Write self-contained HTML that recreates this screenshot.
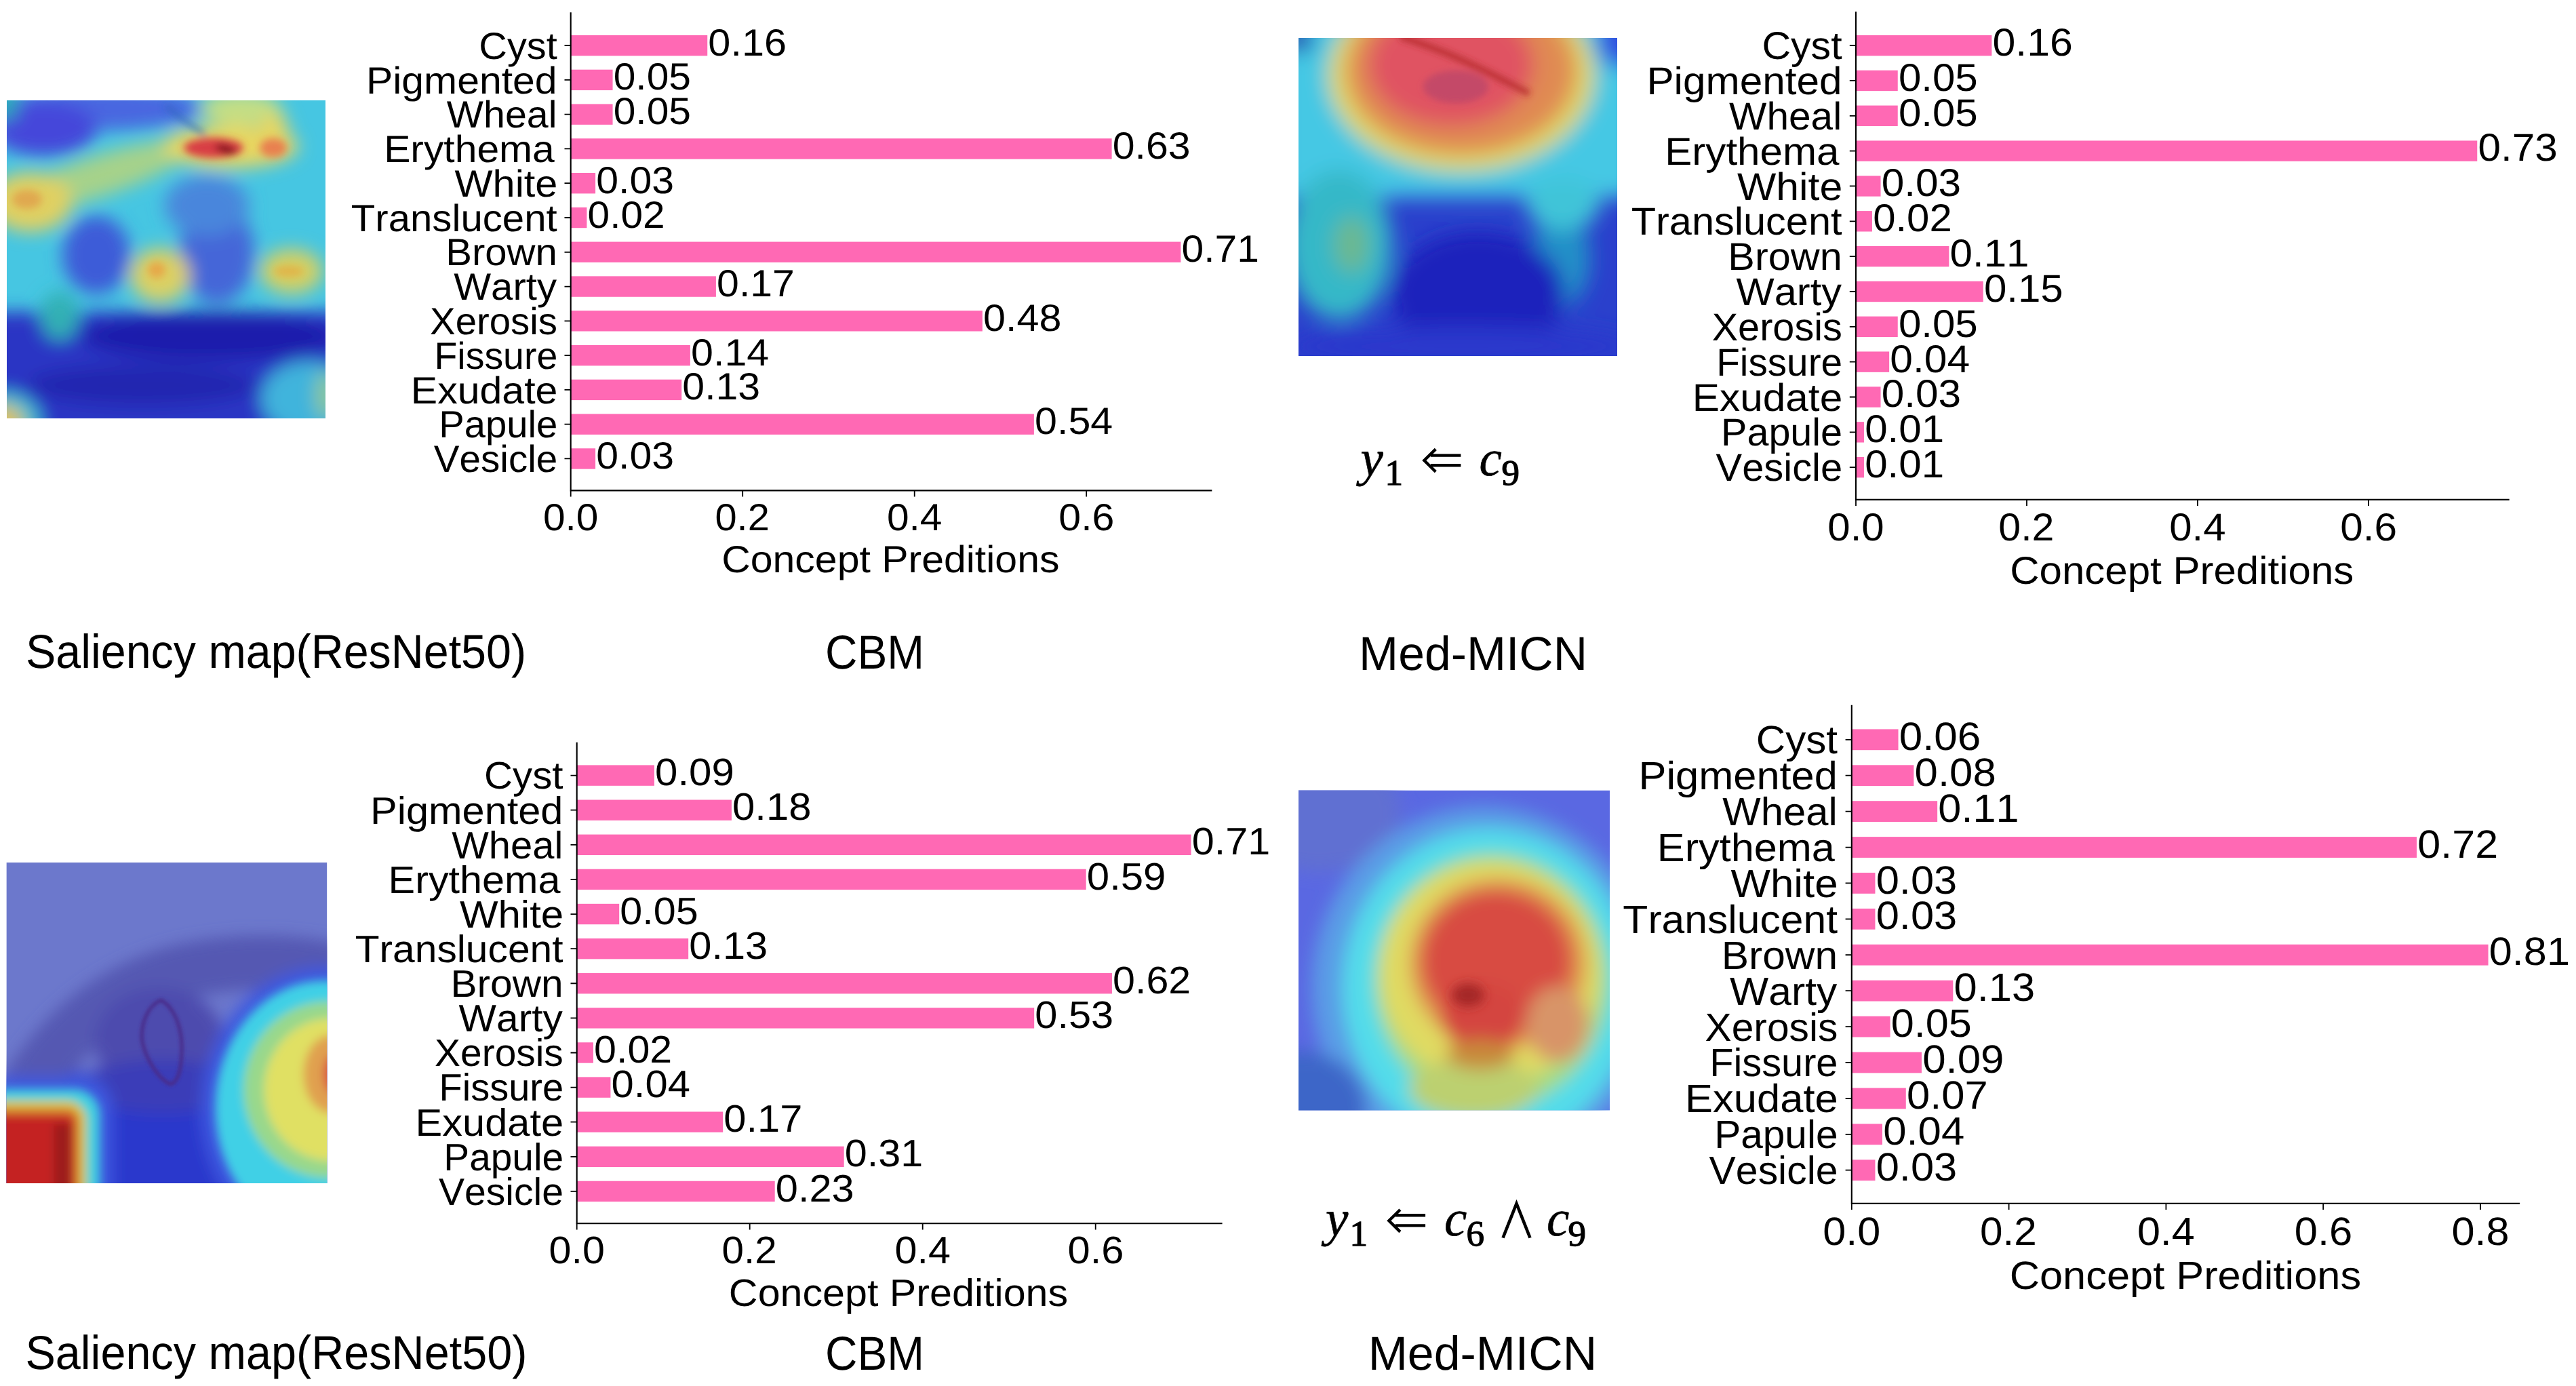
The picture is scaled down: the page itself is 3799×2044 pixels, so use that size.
<!DOCTYPE html>
<html><head><meta charset="utf-8"><style>
html,body{margin:0;padding:0;background:#fff;}
body{width:3799px;height:2044px;overflow:hidden;}
svg{display:block;font-family:"Liberation Sans",sans-serif;font-kerning:none;text-rendering:geometricPrecision;}
</style></head><body>
<svg width="3799" height="2044" viewBox="0 0 3799 2044">
<rect width="3799" height="2044" fill="#fff"/>
<defs><clipPath id="c1"><rect width="470" height="469"/></clipPath><filter id="b1" x="-20%" y="-20%" width="140%" height="140%"><feGaussianBlur stdDeviation="13"/></filter><filter id="b1s" x="-50%" y="-50%" width="200%" height="200%"><feGaussianBlur stdDeviation="6"/></filter></defs>
<g transform="translate(10,148)" clip-path="url(#c1)">
<rect width="470" height="469" fill="#46c6e2"/>
<g filter="url(#b1)">
<ellipse cx="140" cy="12" rx="150" ry="32" fill="#4a66e0"/>
<ellipse cx="55" cy="42" rx="78" ry="40" fill="#4446da"/><ellipse cx="0" cy="6" rx="16" ry="24" fill="#26a8b4"/>
<ellipse cx="132" cy="228" rx="50" ry="58" fill="#3e5cd8"/>
<ellipse cx="310" cy="225" rx="55" ry="75" fill="#4466d8"/><ellipse cx="295" cy="155" rx="62" ry="45" fill="#4a86dc"/>
<rect x="-30" y="312" width="560" height="200" fill="#2a36c4"/>
<ellipse cx="300" cy="348" rx="190" ry="36" fill="#1a1eac"/>
<ellipse cx="200" cy="420" rx="170" ry="30" fill="#2428b0"/>
<ellipse cx="445" cy="440" rx="70" ry="55" fill="#40b4dc"/>
<ellipse cx="470" cy="435" rx="14" ry="35" fill="#90c890"/>
<ellipse cx="78" cy="318" rx="28" ry="36" fill="#30b0b4"/>
<ellipse cx="-5" cy="475" rx="55" ry="45" fill="#40c0d0"/>
<ellipse cx="-5" cy="475" rx="30" ry="25" fill="#e0c050"/>
<ellipse cx="135" cy="112" rx="145" ry="30" fill="#a6d28a" transform="rotate(-18 135 112)"/>
<ellipse cx="35" cy="150" rx="62" ry="44" fill="#e0d062"/>
<ellipse cx="330" cy="68" rx="100" ry="32" fill="#e8d660"/>
<ellipse cx="345" cy="12" rx="60" ry="25" fill="#c4de84"/>
<ellipse cx="395" cy="40" rx="20" ry="22" fill="#e8d660"/>
<ellipse cx="226" cy="258" rx="44" ry="40" fill="#dcd064"/>
<ellipse cx="420" cy="252" rx="46" ry="33" fill="#d6d062"/>
</g>
<g filter="url(#b1s)">
<ellipse cx="30" cy="146" rx="22" ry="14" fill="#e0a850"/>
<ellipse cx="221" cy="250" rx="13" ry="12" fill="#e6a848"/>
<ellipse cx="416" cy="252" rx="22" ry="8" fill="#e0b448"/>
<ellipse cx="393" cy="70" rx="20" ry="14" fill="#e88050"/>
<ellipse cx="305" cy="70" rx="44" ry="15" fill="#d83c44"/>
<ellipse cx="323" cy="72" rx="16" ry="6" fill="#7a0c14" transform="rotate(15 323 72)"/>
<path d="M235 8 Q260 30 292 50" stroke="#2a64b8" stroke-width="5" fill="none"/>
</g>
</g>

<defs><clipPath id="c2"><rect width="470" height="469"/></clipPath><filter id="b2" x="-20%" y="-20%" width="140%" height="140%"><feGaussianBlur stdDeviation="15"/></filter><filter id="b2s" x="-50%" y="-50%" width="200%" height="200%"><feGaussianBlur stdDeviation="5"/></filter></defs>
<g transform="translate(1915,56)" clip-path="url(#c2)">
<rect width="470" height="469" fill="#2a40cc"/>
<g filter="url(#b2)">
<rect x="-30" y="-30" width="530" height="265" fill="#44c8e4"/>
<ellipse cx="60" cy="305" rx="78" ry="110" fill="#34b8c8"/>
<ellipse cx="78" cy="305" rx="26" ry="42" fill="#6cb890"/>
<ellipse cx="388" cy="325" rx="42" ry="70" fill="#2090c8"/>
<ellipse cx="390" cy="245" rx="55" ry="38" fill="#40c4d8"/>
<ellipse cx="265" cy="378" rx="128" ry="92" fill="#1c22bc"/>
<ellipse cx="240" cy="455" rx="260" ry="30" fill="#2a38cc"/>
<ellipse cx="0" cy="0" rx="22" ry="22" fill="#2040b0"/>
<ellipse cx="475" cy="0" rx="35" ry="45" fill="#3050e0"/>
<ellipse cx="240" cy="55" rx="196" ry="142" fill="#e0d860"/>
<ellipse cx="240" cy="48" rx="170" ry="124" fill="#e08a52"/>
<ellipse cx="225" cy="40" rx="122" ry="90" fill="#e05262"/>
</g>
<g filter="url(#b2s)">
<ellipse cx="232" cy="72" rx="48" ry="24" fill="#c44868"/>
<path d="M150 -2 Q200 14 240 32 T340 82" stroke="#b42828" stroke-width="9" fill="none" opacity="0.85"/>
</g>
</g>

<defs><clipPath id="c3"><rect width="473" height="473"/></clipPath><filter id="b3" x="-20%" y="-20%" width="140%" height="140%"><feGaussianBlur stdDeviation="11"/></filter><filter id="b3m" x="-20%" y="-20%" width="140%" height="140%"><feGaussianBlur stdDeviation="7"/></filter><filter id="b3s" x="-50%" y="-50%" width="200%" height="200%"><feGaussianBlur stdDeviation="2.5"/></filter></defs>
<g transform="translate(9.4,1272)" clip-path="url(#c3)">
<rect width="473" height="473" fill="#6c78cc"/>
<g filter="url(#b3)">
<path d="M10 370 Q100 200 260 160 Q380 135 490 160" stroke="#5458b2" stroke-width="80" fill="none"/>
<ellipse cx="225" cy="262" rx="95" ry="78" fill="#4e4cae"/>
<rect x="90" y="310" width="260" height="190" fill="#2a38cc"/>
<ellipse cx="230" cy="330" rx="120" ry="40" fill="#3a3cb8"/>
<ellipse cx="470" cy="362" rx="182" ry="208" fill="#3c58e0"/>
<rect x="-40" y="316" width="196" height="200" rx="45" fill="#3c58e0"/>
</g>
<g filter="url(#b3m)">
<ellipse cx="470" cy="362" rx="162" ry="188" fill="#40d0e6"/>
<ellipse cx="474" cy="335" rx="124" ry="130" fill="#98d88c"/>
<ellipse cx="478" cy="335" rx="98" ry="105" fill="#e0e064"/>
<ellipse cx="480" cy="312" rx="42" ry="58" fill="#e0a050"/>
<ellipse cx="484" cy="312" rx="16" ry="30" fill="#d84840"/>
<rect x="-40" y="334" width="178" height="180" rx="38" fill="#40d0e0"/>
<rect x="-40" y="351" width="158" height="160" rx="28" fill="#d8c840"/>
<rect x="-40" y="362" width="148" height="150" rx="18" fill="#d87830"/>
<rect x="-40" y="372" width="140" height="140" rx="10" fill="#c42020"/>
<rect x="70" y="385" width="26" height="100" fill="#9c1a1a"/>
</g>
<g filter="url(#b3s)">
<path d="M228 203 C250 215 262 250 258 290 C256 315 250 325 242 327 C225 320 205 290 200 262 C198 235 210 210 228 203 Z" fill="none" stroke="#4a2a88" stroke-width="5"/>
</g>
</g>

<defs><clipPath id="c4"><rect width="459" height="472"/></clipPath><filter id="b4" x="-20%" y="-20%" width="140%" height="140%"><feGaussianBlur stdDeviation="13"/></filter><filter id="b4s" x="-50%" y="-50%" width="200%" height="200%"><feGaussianBlur stdDeviation="8"/></filter></defs>
<g transform="translate(1915,1165.5)" clip-path="url(#c4)">
<rect width="459" height="472" fill="#5a68e2"/>
<g filter="url(#b4)">
<ellipse cx="30" cy="30" rx="120" ry="90" fill="#6070d2"/>
<ellipse cx="272" cy="292" rx="252" ry="268" fill="#5a9ce6"/>
<ellipse cx="280" cy="292" rx="215" ry="236" fill="#52dcea"/>
<ellipse cx="5" cy="470" rx="95" ry="85" fill="#3c66c8"/>
<ellipse cx="285" cy="282" rx="172" ry="188" fill="#a6da82"/>
<ellipse cx="282" cy="270" rx="162" ry="165" fill="#e0da62"/>
<ellipse cx="294" cy="256" rx="130" ry="126" fill="#e09250"/>
<ellipse cx="292" cy="252" rx="110" ry="104" fill="#d84c42"/>
<ellipse cx="382" cy="345" rx="46" ry="56" fill="#d89468"/>
<ellipse cx="258" cy="440" rx="95" ry="45" fill="#bcd070"/><ellipse cx="272" cy="335" rx="62" ry="50" fill="#d44440"/><ellipse cx="268" cy="390" rx="50" ry="22" fill="#c88a3a"/>
</g>
<g filter="url(#b4s)">
<ellipse cx="250" cy="302" rx="24" ry="17" fill="#a42626"/>
</g>
</g>

<rect x="841.7" y="51.9" width="201.53" height="30.4" fill="#ff69b4"/>
<rect x="841.7" y="102.68" width="61.85" height="30.4" fill="#ff69b4"/>
<rect x="841.7" y="153.46" width="61.85" height="30.4" fill="#ff69b4"/>
<rect x="841.7" y="204.24" width="797.89" height="30.4" fill="#ff69b4"/>
<rect x="841.7" y="255.02" width="36.38" height="30.4" fill="#ff69b4"/>
<rect x="841.7" y="305.8" width="23.7" height="30.4" fill="#ff69b4"/>
<rect x="841.7" y="356.58" width="899.67" height="30.4" fill="#ff69b4"/>
<rect x="841.7" y="407.36" width="214.21" height="30.4" fill="#ff69b4"/>
<rect x="841.7" y="458.14" width="607.13" height="30.4" fill="#ff69b4"/>
<rect x="841.7" y="508.92" width="176.18" height="30.4" fill="#ff69b4"/>
<rect x="841.7" y="559.7" width="163.51" height="30.4" fill="#ff69b4"/>
<rect x="841.7" y="610.48" width="683.18" height="30.4" fill="#ff69b4"/>
<rect x="841.7" y="661.26" width="36.38" height="30.4" fill="#ff69b4"/>
<path d="M841.7 19.4V723.4H1786.3" fill="none" stroke="#000" stroke-width="2.1" stroke-linecap="square"/>
<path d="M832.5 67.1H841.7M832.5 117.88H841.7M832.5 168.66H841.7M832.5 219.44H841.7M832.5 270.22H841.7M832.5 321H841.7M832.5 371.78H841.7M832.5 422.56H841.7M832.5 473.34H841.7M832.5 524.12H841.7M832.5 574.9H841.7M832.5 625.68H841.7M832.5 676.46H841.7M841.7 723.4V732.6M1095.2 723.4V732.6M1348.7 723.4V732.6M1602.2 723.4V732.6" stroke="#000" stroke-width="1.8"/>
<text x="706.27" y="86.74" font-size="55.97" textLength="115.45" lengthAdjust="spacingAndGlyphs">Cyst</text>
<text x="539.96" y="137.52" font-size="55.97" textLength="281.6" lengthAdjust="spacingAndGlyphs">Pigmented</text>
<text x="658.88" y="188.3" font-size="55.97" textLength="162.57" lengthAdjust="spacingAndGlyphs">Wheal</text>
<text x="566.17" y="239.08" font-size="55.97" textLength="251.6" lengthAdjust="spacingAndGlyphs">Erythema</text>
<text x="670.53" y="289.86" font-size="55.97" textLength="151.87" lengthAdjust="spacingAndGlyphs">White</text>
<text x="517.76" y="340.64" font-size="55.97" textLength="303.97" lengthAdjust="spacingAndGlyphs">Translucent</text>
<text x="657.26" y="391.42" font-size="55.97" textLength="164.59" lengthAdjust="spacingAndGlyphs">Brown</text>
<text x="669.22" y="442.2" font-size="55.97" textLength="151.89" lengthAdjust="spacingAndGlyphs">Warty</text>
<text x="634.05" y="492.98" font-size="55.97" textLength="187.97" lengthAdjust="spacingAndGlyphs">Xerosis</text>
<text x="640.49" y="543.76" font-size="55.97" textLength="181.73" lengthAdjust="spacingAndGlyphs">Fissure</text>
<text x="605.77" y="594.54" font-size="55.97" textLength="216.6" lengthAdjust="spacingAndGlyphs">Exudate</text>
<text x="647.18" y="645.32" font-size="55.97" textLength="175.08" lengthAdjust="spacingAndGlyphs">Papule</text>
<text x="639.86" y="696.1" font-size="55.97" textLength="182.41" lengthAdjust="spacingAndGlyphs">Vesicle</text>
<text x="1044.39" y="81.63" font-size="55.97" textLength="115.69" lengthAdjust="spacingAndGlyphs">0.16</text>
<text x="904.74" y="132.41" font-size="55.97" textLength="114.22" lengthAdjust="spacingAndGlyphs">0.05</text>
<text x="904.74" y="183.19" font-size="55.97" textLength="114.22" lengthAdjust="spacingAndGlyphs">0.05</text>
<text x="1640.77" y="233.97" font-size="55.97" textLength="114.75" lengthAdjust="spacingAndGlyphs">0.63</text>
<text x="879.25" y="284.75" font-size="55.97" textLength="114.75" lengthAdjust="spacingAndGlyphs">0.03</text>
<text x="866.59" y="335.53" font-size="55.97" textLength="114.03" lengthAdjust="spacingAndGlyphs">0.02</text>
<text x="1742.56" y="386.31" font-size="55.97" textLength="114.37" lengthAdjust="spacingAndGlyphs">0.71</text>
<text x="1057.08" y="437.09" font-size="55.97" textLength="114.84" lengthAdjust="spacingAndGlyphs">0.17</text>
<text x="1450" y="487.87" font-size="55.97" textLength="115.36" lengthAdjust="spacingAndGlyphs">0.48</text>
<text x="1019.05" y="538.65" font-size="55.97" textLength="115.16" lengthAdjust="spacingAndGlyphs">0.14</text>
<text x="1006.38" y="589.43" font-size="55.97" textLength="114.75" lengthAdjust="spacingAndGlyphs">0.13</text>
<text x="1526.05" y="640.21" font-size="55.97" textLength="115.16" lengthAdjust="spacingAndGlyphs">0.54</text>
<text x="879.25" y="690.99" font-size="55.97" textLength="114.75" lengthAdjust="spacingAndGlyphs">0.03</text>
<text x="800.9" y="781.6" font-size="55.97" textLength="81.57" lengthAdjust="spacingAndGlyphs">0.0</text>
<text x="1054.44" y="781.6" font-size="55.97" textLength="80.37" lengthAdjust="spacingAndGlyphs">0.2</text>
<text x="1307.9" y="781.6" font-size="55.97" textLength="81.53" lengthAdjust="spacingAndGlyphs">0.4</text>
<text x="1561.39" y="781.6" font-size="55.97" textLength="82.06" lengthAdjust="spacingAndGlyphs">0.6</text>
<text x="1064.21" y="844.4" font-size="55.97" textLength="498.23" lengthAdjust="spacingAndGlyphs">Concept Preditions</text>
<rect x="2737" y="51.9" width="200.34" height="30.4" fill="#ff69b4"/>
<rect x="2737" y="103.74" width="61.74" height="30.4" fill="#ff69b4"/>
<rect x="2737" y="155.58" width="61.74" height="30.4" fill="#ff69b4"/>
<rect x="2737" y="207.42" width="916.27" height="30.4" fill="#ff69b4"/>
<rect x="2737" y="259.26" width="36.54" height="30.4" fill="#ff69b4"/>
<rect x="2737" y="311.1" width="23.94" height="30.4" fill="#ff69b4"/>
<rect x="2737" y="362.94" width="137.34" height="30.4" fill="#ff69b4"/>
<rect x="2737" y="414.78" width="187.74" height="30.4" fill="#ff69b4"/>
<rect x="2737" y="466.62" width="61.74" height="30.4" fill="#ff69b4"/>
<rect x="2737" y="518.46" width="49.14" height="30.4" fill="#ff69b4"/>
<rect x="2737" y="570.3" width="36.54" height="30.4" fill="#ff69b4"/>
<rect x="2737" y="622.14" width="11.97" height="30.4" fill="#ff69b4"/>
<rect x="2737" y="673.98" width="11.97" height="30.4" fill="#ff69b4"/>
<path d="M2737 18.4V736.9H3699.6" fill="none" stroke="#000" stroke-width="2.1" stroke-linecap="square"/>
<path d="M2727.8 67.1H2737M2727.8 118.94H2737M2727.8 170.78H2737M2727.8 222.62H2737M2727.8 274.46H2737M2727.8 326.3H2737M2727.8 378.14H2737M2727.8 429.98H2737M2727.8 481.82H2737M2727.8 533.66H2737M2727.8 585.5H2737M2727.8 637.34H2737M2727.8 689.18H2737M2737 736.9V746.1M2989 736.9V746.1M3241 736.9V746.1M3493 736.9V746.1" stroke="#000" stroke-width="1.8"/>
<text x="2598.49" y="87.18" font-size="57.24" textLength="118.07" lengthAdjust="spacingAndGlyphs">Cyst</text>
<text x="2428.41" y="139.02" font-size="57.24" textLength="288" lengthAdjust="spacingAndGlyphs">Pigmented</text>
<text x="2550.03" y="190.86" font-size="57.24" textLength="166.26" lengthAdjust="spacingAndGlyphs">Wheal</text>
<text x="2455.21" y="242.7" font-size="57.24" textLength="257.32" lengthAdjust="spacingAndGlyphs">Erythema</text>
<text x="2561.94" y="294.54" font-size="57.24" textLength="155.32" lengthAdjust="spacingAndGlyphs">White</text>
<text x="2405.7" y="346.38" font-size="57.24" textLength="310.87" lengthAdjust="spacingAndGlyphs">Translucent</text>
<text x="2548.37" y="398.22" font-size="57.24" textLength="168.33" lengthAdjust="spacingAndGlyphs">Brown</text>
<text x="2560.6" y="450.06" font-size="57.24" textLength="155.34" lengthAdjust="spacingAndGlyphs">Warty</text>
<text x="2524.63" y="501.9" font-size="57.24" textLength="192.25" lengthAdjust="spacingAndGlyphs">Xerosis</text>
<text x="2531.21" y="553.74" font-size="57.24" textLength="185.86" lengthAdjust="spacingAndGlyphs">Fissure</text>
<text x="2495.71" y="605.58" font-size="57.24" textLength="221.53" lengthAdjust="spacingAndGlyphs">Exudate</text>
<text x="2538.06" y="657.42" font-size="57.24" textLength="179.05" lengthAdjust="spacingAndGlyphs">Papule</text>
<text x="2530.57" y="709.26" font-size="57.24" textLength="186.55" lengthAdjust="spacingAndGlyphs">Vesicle</text>
<text x="2938.52" y="81.96" font-size="57.24" textLength="118.32" lengthAdjust="spacingAndGlyphs">0.16</text>
<text x="2799.95" y="133.8" font-size="57.24" textLength="116.82" lengthAdjust="spacingAndGlyphs">0.05</text>
<text x="2799.95" y="185.64" font-size="57.24" textLength="116.82" lengthAdjust="spacingAndGlyphs">0.05</text>
<text x="3654.48" y="237.48" font-size="57.24" textLength="117.36" lengthAdjust="spacingAndGlyphs">0.73</text>
<text x="2774.74" y="289.32" font-size="57.24" textLength="117.36" lengthAdjust="spacingAndGlyphs">0.03</text>
<text x="2762.16" y="341.16" font-size="57.24" textLength="116.62" lengthAdjust="spacingAndGlyphs">0.02</text>
<text x="2875.55" y="393" font-size="57.24" textLength="116.97" lengthAdjust="spacingAndGlyphs">0.11</text>
<text x="2925.95" y="444.84" font-size="57.24" textLength="116.82" lengthAdjust="spacingAndGlyphs">0.15</text>
<text x="2799.95" y="496.68" font-size="57.24" textLength="116.82" lengthAdjust="spacingAndGlyphs">0.05</text>
<text x="2787.34" y="548.52" font-size="57.24" textLength="117.78" lengthAdjust="spacingAndGlyphs">0.04</text>
<text x="2774.74" y="600.36" font-size="57.24" textLength="117.36" lengthAdjust="spacingAndGlyphs">0.03</text>
<text x="2750.18" y="652.2" font-size="57.24" textLength="116.97" lengthAdjust="spacingAndGlyphs">0.01</text>
<text x="2750.18" y="704.04" font-size="57.24" textLength="116.97" lengthAdjust="spacingAndGlyphs">0.01</text>
<text x="2695.28" y="797.3" font-size="57.24" textLength="83.42" lengthAdjust="spacingAndGlyphs">0.0</text>
<text x="2947.31" y="797.3" font-size="57.24" textLength="82.2" lengthAdjust="spacingAndGlyphs">0.2</text>
<text x="3199.28" y="797.3" font-size="57.24" textLength="83.39" lengthAdjust="spacingAndGlyphs">0.4</text>
<text x="3451.26" y="797.3" font-size="57.24" textLength="83.93" lengthAdjust="spacingAndGlyphs">0.6</text>
<text x="2964.15" y="860.6" font-size="57.24" textLength="507.22" lengthAdjust="spacingAndGlyphs">Concept Preditions</text>
<rect x="850.7" y="1128.4" width="114.24" height="30.4" fill="#ff69b4"/>
<rect x="850.7" y="1179.51" width="228.22" height="30.4" fill="#ff69b4"/>
<rect x="850.7" y="1230.62" width="905.89" height="30.4" fill="#ff69b4"/>
<rect x="850.7" y="1281.73" width="750.97" height="30.4" fill="#ff69b4"/>
<rect x="850.7" y="1332.84" width="62.48" height="30.4" fill="#ff69b4"/>
<rect x="850.7" y="1383.95" width="164.47" height="30.4" fill="#ff69b4"/>
<rect x="850.7" y="1435.06" width="789.23" height="30.4" fill="#ff69b4"/>
<rect x="850.7" y="1486.17" width="674.48" height="30.4" fill="#ff69b4"/>
<rect x="850.7" y="1537.28" width="24.22" height="30.4" fill="#ff69b4"/>
<rect x="850.7" y="1588.39" width="49.73" height="30.4" fill="#ff69b4"/>
<rect x="850.7" y="1639.5" width="215.48" height="30.4" fill="#ff69b4"/>
<rect x="850.7" y="1690.61" width="393.98" height="30.4" fill="#ff69b4"/>
<rect x="850.7" y="1741.72" width="291.98" height="30.4" fill="#ff69b4"/>
<path d="M850.7 1095.7V1804.2H1801.5" fill="none" stroke="#000" stroke-width="2.1" stroke-linecap="square"/>
<path d="M841.5 1143.6H850.7M841.5 1194.71H850.7M841.5 1245.82H850.7M841.5 1296.93H850.7M841.5 1348.04H850.7M841.5 1399.15H850.7M841.5 1450.26H850.7M841.5 1501.37H850.7M841.5 1552.48H850.7M841.5 1603.59H850.7M841.5 1654.7H850.7M841.5 1705.81H850.7M841.5 1756.92H850.7M850.7 1804.2V1813.4M1105.7 1804.2V1813.4M1360.7 1804.2V1813.4M1615.7 1804.2V1813.4" stroke="#000" stroke-width="1.8"/>
<text x="713.99" y="1163.42" font-size="56.5" textLength="116.54" lengthAdjust="spacingAndGlyphs">Cyst</text>
<text x="546.11" y="1214.53" font-size="56.5" textLength="284.27" lengthAdjust="spacingAndGlyphs">Pigmented</text>
<text x="666.15" y="1265.64" font-size="56.5" textLength="164.11" lengthAdjust="spacingAndGlyphs">Wheal</text>
<text x="572.56" y="1316.75" font-size="56.5" textLength="253.98" lengthAdjust="spacingAndGlyphs">Erythema</text>
<text x="677.91" y="1367.86" font-size="56.5" textLength="153.3" lengthAdjust="spacingAndGlyphs">White</text>
<text x="523.69" y="1418.97" font-size="56.5" textLength="306.84" lengthAdjust="spacingAndGlyphs">Translucent</text>
<text x="664.51" y="1470.08" font-size="56.5" textLength="166.15" lengthAdjust="spacingAndGlyphs">Brown</text>
<text x="676.59" y="1521.19" font-size="56.5" textLength="153.32" lengthAdjust="spacingAndGlyphs">Warty</text>
<text x="641.08" y="1572.3" font-size="56.5" textLength="189.75" lengthAdjust="spacingAndGlyphs">Xerosis</text>
<text x="647.58" y="1623.41" font-size="56.5" textLength="183.45" lengthAdjust="spacingAndGlyphs">Fissure</text>
<text x="612.54" y="1674.52" font-size="56.5" textLength="218.65" lengthAdjust="spacingAndGlyphs">Exudate</text>
<text x="654.33" y="1725.63" font-size="56.5" textLength="176.73" lengthAdjust="spacingAndGlyphs">Papule</text>
<text x="646.95" y="1776.74" font-size="56.5" textLength="184.13" lengthAdjust="spacingAndGlyphs">Vesicle</text>
<text x="966.11" y="1158.27" font-size="56.5" textLength="116.59" lengthAdjust="spacingAndGlyphs">0.09</text>
<text x="1080.1" y="1209.38" font-size="56.5" textLength="116.46" lengthAdjust="spacingAndGlyphs">0.18</text>
<text x="1757.78" y="1260.49" font-size="56.5" textLength="115.46" lengthAdjust="spacingAndGlyphs">0.71</text>
<text x="1602.85" y="1311.6" font-size="56.5" textLength="116.59" lengthAdjust="spacingAndGlyphs">0.59</text>
<text x="914.37" y="1362.71" font-size="56.5" textLength="115.31" lengthAdjust="spacingAndGlyphs">0.05</text>
<text x="1016.36" y="1413.82" font-size="56.5" textLength="115.83" lengthAdjust="spacingAndGlyphs">0.13</text>
<text x="1641.13" y="1464.93" font-size="56.5" textLength="115.11" lengthAdjust="spacingAndGlyphs">0.62</text>
<text x="1526.36" y="1516.04" font-size="56.5" textLength="115.83" lengthAdjust="spacingAndGlyphs">0.53</text>
<text x="876.13" y="1567.15" font-size="56.5" textLength="115.11" lengthAdjust="spacingAndGlyphs">0.02</text>
<text x="901.61" y="1618.26" font-size="56.5" textLength="116.25" lengthAdjust="spacingAndGlyphs">0.04</text>
<text x="1067.36" y="1669.37" font-size="56.5" textLength="115.93" lengthAdjust="spacingAndGlyphs">0.17</text>
<text x="1245.87" y="1720.48" font-size="56.5" textLength="115.46" lengthAdjust="spacingAndGlyphs">0.31</text>
<text x="1143.86" y="1771.59" font-size="56.5" textLength="115.83" lengthAdjust="spacingAndGlyphs">0.23</text>
<text x="809.52" y="1863.4" font-size="56.5" textLength="82.34" lengthAdjust="spacingAndGlyphs">0.0</text>
<text x="1064.55" y="1863.4" font-size="56.5" textLength="81.13" lengthAdjust="spacingAndGlyphs">0.2</text>
<text x="1319.52" y="1863.4" font-size="56.5" textLength="82.31" lengthAdjust="spacingAndGlyphs">0.4</text>
<text x="1574.5" y="1863.4" font-size="56.5" textLength="82.84" lengthAdjust="spacingAndGlyphs">0.6</text>
<text x="1074.89" y="1926.1" font-size="56.5" textLength="500.25" lengthAdjust="spacingAndGlyphs">Concept Preditions</text>
<rect x="2730.8" y="1075.4" width="68.73" height="30.8" fill="#ff69b4"/>
<rect x="2730.8" y="1128.31" width="91.56" height="30.8" fill="#ff69b4"/>
<rect x="2730.8" y="1181.22" width="126.33" height="30.8" fill="#ff69b4"/>
<rect x="2730.8" y="1234.13" width="833.32" height="30.8" fill="#ff69b4"/>
<rect x="2730.8" y="1287.04" width="34.65" height="30.8" fill="#ff69b4"/>
<rect x="2730.8" y="1339.95" width="34.65" height="30.8" fill="#ff69b4"/>
<rect x="2730.8" y="1392.86" width="938.79" height="30.8" fill="#ff69b4"/>
<rect x="2730.8" y="1445.77" width="149.51" height="30.8" fill="#ff69b4"/>
<rect x="2730.8" y="1498.68" width="56.79" height="30.8" fill="#ff69b4"/>
<rect x="2730.8" y="1551.59" width="103.15" height="30.8" fill="#ff69b4"/>
<rect x="2730.8" y="1604.5" width="79.97" height="30.8" fill="#ff69b4"/>
<rect x="2730.8" y="1657.41" width="45.2" height="30.8" fill="#ff69b4"/>
<rect x="2730.8" y="1710.32" width="34.65" height="30.8" fill="#ff69b4"/>
<path d="M2730.8 1040.9V1774.8H3715.1" fill="none" stroke="#000" stroke-width="2.1" stroke-linecap="square"/>
<path d="M2721.6 1090.8H2730.8M2721.6 1143.71H2730.8M2721.6 1196.62H2730.8M2721.6 1249.53H2730.8M2721.6 1302.44H2730.8M2721.6 1355.35H2730.8M2721.6 1408.26H2730.8M2721.6 1461.17H2730.8M2721.6 1514.08H2730.8M2721.6 1566.99H2730.8M2721.6 1619.9H2730.8M2721.6 1672.81H2730.8M2721.6 1725.72H2730.8M2730.8 1774.8V1784M2962.6 1774.8V1784M3194.4 1774.8V1784M3426.2 1774.8V1784M3658 1774.8V1784" stroke="#000" stroke-width="1.8"/>
<text x="2589.73" y="1111.26" font-size="58.3" textLength="120.26" lengthAdjust="spacingAndGlyphs">Cyst</text>
<text x="2416.49" y="1164.17" font-size="58.3" textLength="293.33" lengthAdjust="spacingAndGlyphs">Pigmented</text>
<text x="2540.37" y="1217.08" font-size="58.3" textLength="169.34" lengthAdjust="spacingAndGlyphs">Wheal</text>
<text x="2443.79" y="1269.99" font-size="58.3" textLength="262.08" lengthAdjust="spacingAndGlyphs">Erythema</text>
<text x="2552.5" y="1322.9" font-size="58.3" textLength="158.19" lengthAdjust="spacingAndGlyphs">White</text>
<text x="2393.36" y="1375.81" font-size="58.3" textLength="316.63" lengthAdjust="spacingAndGlyphs">Translucent</text>
<text x="2538.68" y="1428.72" font-size="58.3" textLength="171.45" lengthAdjust="spacingAndGlyphs">Brown</text>
<text x="2551.13" y="1481.63" font-size="58.3" textLength="158.21" lengthAdjust="spacingAndGlyphs">Warty</text>
<text x="2514.5" y="1534.54" font-size="58.3" textLength="195.81" lengthAdjust="spacingAndGlyphs">Xerosis</text>
<text x="2521.2" y="1587.45" font-size="58.3" textLength="189.3" lengthAdjust="spacingAndGlyphs">Fissure</text>
<text x="2485.04" y="1640.36" font-size="58.3" textLength="225.63" lengthAdjust="spacingAndGlyphs">Exudate</text>
<text x="2528.17" y="1693.27" font-size="58.3" textLength="182.37" lengthAdjust="spacingAndGlyphs">Papule</text>
<text x="2520.55" y="1746.18" font-size="58.3" textLength="190.01" lengthAdjust="spacingAndGlyphs">Vesicle</text>
<text x="2800.74" y="1105.93" font-size="58.3" textLength="120.51" lengthAdjust="spacingAndGlyphs">0.06</text>
<text x="2823.57" y="1158.84" font-size="58.3" textLength="120.17" lengthAdjust="spacingAndGlyphs">0.08</text>
<text x="2858.37" y="1211.75" font-size="58.3" textLength="119.14" lengthAdjust="spacingAndGlyphs">0.11</text>
<text x="3565.36" y="1264.66" font-size="58.3" textLength="118.78" lengthAdjust="spacingAndGlyphs">0.72</text>
<text x="2766.68" y="1317.57" font-size="58.3" textLength="119.53" lengthAdjust="spacingAndGlyphs">0.03</text>
<text x="2766.68" y="1370.48" font-size="58.3" textLength="119.53" lengthAdjust="spacingAndGlyphs">0.03</text>
<text x="3670.82" y="1423.39" font-size="58.3" textLength="119.14" lengthAdjust="spacingAndGlyphs">0.81</text>
<text x="2881.54" y="1476.3" font-size="58.3" textLength="119.53" lengthAdjust="spacingAndGlyphs">0.13</text>
<text x="2788.83" y="1529.21" font-size="58.3" textLength="118.98" lengthAdjust="spacingAndGlyphs">0.05</text>
<text x="2835.16" y="1582.12" font-size="58.3" textLength="120.31" lengthAdjust="spacingAndGlyphs">0.09</text>
<text x="2812" y="1635.03" font-size="58.3" textLength="119.63" lengthAdjust="spacingAndGlyphs">0.07</text>
<text x="2777.22" y="1687.94" font-size="58.3" textLength="119.96" lengthAdjust="spacingAndGlyphs">0.04</text>
<text x="2766.68" y="1740.85" font-size="58.3" textLength="119.53" lengthAdjust="spacingAndGlyphs">0.03</text>
<text x="2688.3" y="1836.2" font-size="58.3" textLength="84.97" lengthAdjust="spacingAndGlyphs">0.0</text>
<text x="2920.14" y="1836.2" font-size="58.3" textLength="83.72" lengthAdjust="spacingAndGlyphs">0.2</text>
<text x="3151.9" y="1836.2" font-size="58.3" textLength="84.93" lengthAdjust="spacingAndGlyphs">0.4</text>
<text x="3383.69" y="1836.2" font-size="58.3" textLength="85.48" lengthAdjust="spacingAndGlyphs">0.6</text>
<text x="3615.5" y="1836.2" font-size="58.3" textLength="85.14" lengthAdjust="spacingAndGlyphs">0.8</text>
<text x="2963.68" y="1900.9" font-size="58.3" textLength="518.43" lengthAdjust="spacingAndGlyphs">Concept Preditions</text>
<text x="37.98" y="985.2" font-size="70.27" textLength="738.13" lengthAdjust="spacingAndGlyphs">Saliency map(ResNet50)</text>
<text x="1217.06" y="985.7" font-size="70.27" textLength="146.03" lengthAdjust="spacingAndGlyphs">CBM</text>
<text x="2004.08" y="987.8" font-size="70.27" textLength="337" lengthAdjust="spacingAndGlyphs">Med-MICN</text>
<text x="37.38" y="2019.2" font-size="70.27" textLength="740.05" lengthAdjust="spacingAndGlyphs">Saliency map(ResNet50)</text>
<text x="1217.06" y="2019.9" font-size="70.27" textLength="146.03" lengthAdjust="spacingAndGlyphs">CBM</text>
<text x="2017.67" y="2020" font-size="70.27" textLength="337.42" lengthAdjust="spacingAndGlyphs">Med-MICN</text>
<text x="2006.5" y="700.5" font-family="Liberation Serif" font-style="italic" font-size="75" stroke="#000" stroke-width="0.6">y</text><text x="2042.5" y="715.2" font-family="Liberation Serif" font-size="53" stroke="#000" stroke-width="1.3">1</text><path d="M2117.3 662.4L2100.4 679.05L2117.3 695.7" fill="none" stroke="#000" stroke-width="4.4" stroke-linejoin="miter"/><path d="M2109.9 671.6H2154.4M2109.9 686.2H2154.4" stroke="#000" stroke-width="4.4"/><text x="2181.5" y="700.5" font-family="Liberation Serif" font-style="italic" font-size="75" stroke="#000" stroke-width="0.6">c</text><text x="2214.5" y="715.2" font-family="Liberation Serif" font-size="53" stroke="#000" stroke-width="1.3">9</text>
<text x="1955" y="1822.2" font-family="Liberation Serif" font-style="italic" font-size="75" stroke="#000" stroke-width="0.6">y</text><text x="1990.5" y="1837" font-family="Liberation Serif" font-size="53" stroke="#000" stroke-width="1.3">1</text><path d="M2064.93 1784L2048.4 1800.3L2064.93 1816.6" fill="none" stroke="#000" stroke-width="4.4" stroke-linejoin="miter"/><path d="M2057.9 1792.2H2102.1M2057.9 1807.4H2102.1" stroke="#000" stroke-width="4.4"/><text x="2130" y="1822.2" font-family="Liberation Serif" font-style="italic" font-size="75" stroke="#000" stroke-width="0.6">c</text><text x="2162.5" y="1837" font-family="Liberation Serif" font-size="53" stroke="#000" stroke-width="1.3">6</text><path d="M2216.5 1825.5L2236.5 1775L2256.5 1825.5" fill="none" stroke="#000" stroke-width="4.6"/><text x="2281" y="1822.2" font-family="Liberation Serif" font-style="italic" font-size="75" stroke="#000" stroke-width="0.6">c</text><text x="2312.5" y="1837" font-family="Liberation Serif" font-size="53" stroke="#000" stroke-width="1.3">9</text>
</svg>
</body></html>
